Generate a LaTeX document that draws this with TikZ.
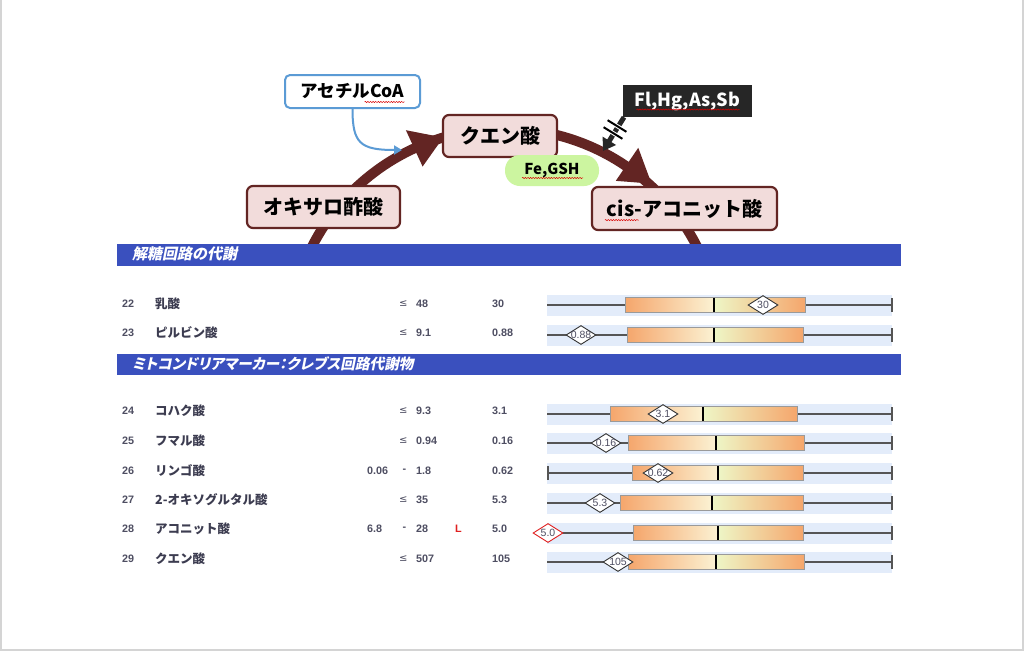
\documentclass[tikz,border=0pt]{standalone}
\usepackage{fontspec}
\setmainfont{Liberation Sans}
\newfontfamily\jp{Noto Sans CJK JP}
\newfontfamily\jpi{Noto Sans CJK JP}[RawFeature=+palt, FakeSlant=0.2]
\newfontfamily\dvs{DejaVu Sans}
\usetikzlibrary{shapes.geometric, arrows.meta, decorations.pathmorphing, calc}
\definecolor{maroon}{HTML}{632523}
\definecolor{boxpink}{HTML}{F2DCDB}
\definecolor{acblue}{HTML}{5B9BD5}
\definecolor{bandblue}{HTML}{3A50BE}
\definecolor{rowbg}{HTML}{E3ECFA}
\definecolor{orng}{HTML}{F5A66C}
\definecolor{cream}{HTML}{FBF2D3}
\definecolor{paleyg}{HTML}{EEF6C6}
\definecolor{txtd}{HTML}{3C3C50}
\definecolor{txtn}{HTML}{4E4E62}
\definecolor{limeg}{HTML}{CCF5A0}
\definecolor{blk}{HTML}{262626}
\definecolor{framegray}{HTML}{D4D4D4}
\definecolor{whiskc}{HTML}{555555}
\definecolor{boxedge}{HTML}{9A9A9A}
\definecolor{lred}{HTML}{E02020}
\newcommand{\rowbar}[5]{%
  \fill[rowbg] (547,#1-10.5) rectangle (892,#1+10.5);
  \draw[whisk] (547,#1) -- (892,#1);
  \draw[whisk] (892,#1-7) -- (892,#1+7);
  \shade[left color=orng, right color=cream] (#2,#1-7.2) rectangle (#4,#1+7.2);
  \shade[left color=paleyg, right color=orng] (#4,#1-7.2) rectangle (#3,#1+7.2);
  \draw[boxb] (#2,#1-7.2) rectangle (#3,#1+7.2);
  \draw[medl] (#4,#1-7.2) -- (#4,#1+7.2);
  \ifnum#5=1 \draw[whisk] (548,#1-7) -- (548,#1+7);\fi
}
\begin{document}
\begin{tikzpicture}[x=1pt,y=-1pt,
  chem/.style={draw=maroon, line width=2.2pt, fill=boxpink, rounded corners=6pt,
    font=\jp\bfseries\fontsize{20}{24}\selectfont, inner sep=0pt},
  rn/.style={anchor=west, inner sep=0pt, font=\bfseries\fontsize{10.8}{12}\selectfont, text=txtn},
  nm/.style={anchor=west, inner sep=0pt, font=\jp\bfseries\fontsize{12.5}{14}\selectfont, text=txtd},
  le/.style={anchor=west, inner sep=0pt, font=\dvs\fontsize{10}{12}\selectfont, text=txtn},
  bandtxt/.style={anchor=west, inner sep=0pt, text=white, font=\jpi\bfseries\fontsize{15}{17}\selectfont},
  whisk/.style={whiskc, line width=1.2pt},
  boxb/.style={boxedge, line width=0.8pt},
  medl/.style={black, line width=1.2pt},
  dia/.style={diamond, draw=#1, line width=0.9pt, fill=white, inner sep=0pt,
    minimum width=30pt, minimum height=19pt, font=\fontsize{10.5}{11}\selectfont, text=txtn},
  dia/.default={black!80},
  wavy/.style={red!85!black, line width=0.5pt, decorate, decoration={snake, amplitude=0.6pt, segment length=2.6pt}}
]
\useasboundingbox (0,0) rectangle (1024,651);
\fill[white] (0,0) rectangle (1024,651);
\draw[framegray, line width=2pt] (1,0) -- (1,650) -- (1023,650) -- (1023,0);

% ---- cycle arc ----
\coordinate (C) at (504.5,344.6);
\draw[maroon, line width=10pt] ([shift={(206:216)}]C) arc[start angle=206, end angle=334, radius=216];
\fill[maroon] ([shift={(253.5:216)}]C) -- ([shift={(245.3:236)}]C) -- ([shift={(245.3:196)}]C) -- cycle;
\fill[maroon] ([shift={(312.4:218)}]C) -- ([shift={(304.2:238)}]C) -- ([shift={(304.2:198)}]C) -- cycle;

% ---- nodes ----
\node[chem, minimum width=153pt, minimum height=42pt] (oxa) at (323.5,207) {オキサロ酢酸};
\node[chem, minimum width=114pt, minimum height=42pt] (cit) at (500,136) {クエン酸};
\node[chem, minimum width=185pt, minimum height=43pt] (cis) at (684.5,208.5) {cis-アコニット酸};

\node[draw=acblue, line width=2pt, fill=white, rounded corners=5pt, minimum width=135pt,
  minimum height=33pt, inner sep=0pt, font=\jp\bfseries\fontsize{17.5}{20}\selectfont] (acoa) at (352.5,91.5) {アセチルCoA};
\coordinate (acin) at (402,150);
\draw[acblue, line width=2pt, -{Triangle[length=8pt,width=9pt]}] (acoa.south) .. controls (352.5,143) and (360,150) .. (acin);

\node[fill=limeg, rounded corners=15pt, minimum width=94pt, minimum height=31pt, inner sep=0pt,
  font=\jp\bfseries\fontsize{15}{18}\selectfont] (fe) at (552,170.5) {Fe,GSH};

\node[fill=blk, minimum width=129pt, minimum height=32pt, inner sep=0pt, text=white,
  font=\jp\bfseries\fontsize{18}{21}\selectfont] (tox) at (687.5,101) {Fl,Hg,As,Sb};
\coordinate (toxtip) at (603,151);
\draw[blk, line width=5pt, -{Triangle[length=12pt,width=15pt]}] ([xshift=-63.5pt]tox.south) -- (toxtip);
\coordinate (h1a) at (607.6,120.2); \coordinate (h1b) at (626.4,131.8);
\coordinate (h2a) at (603.6,127.2); \coordinate (h2b) at (622.4,138.8);
\draw[white, line width=4pt] (h1a) -- (h1b) (h2a) -- (h2b);
\draw[black, line width=2pt] (h1a) -- (h1b) (h2a) -- (h2b);

% spell-check underlines
\draw[wavy] ($(acoa.base)+(12,4)$) -- ($(acoa.base)+(52,4)$);
\draw[wavy] ($(fe.base)+(-30,3.5)$) -- ($(fe.base)+(31,3.5)$);
\draw[wavy] ($(tox.base)+(-51,3.5)$) -- ($(tox.base)+(52,3.5)$);
\draw[wavy] ($(cis.base west)+(14,4)$) -- ($(cis.base west)+(48,4)$);

% ---- bands ----
\fill[bandblue] (117,244) rectangle (901,266);
\node[bandtxt] (b1) at (132,254) {解糖回路の代謝};
\fill[bandblue] (117,354) rectangle (901,375);
\node[bandtxt, font=\jpi\bfseries\fontsize{14.6}{17}\selectfont] (b2) at (132,364) {ミトコンドリアマーカー：クレブス回路代謝物};

% ---- rows text ----
\foreach \n/\y/\name in {22/304/乳酸, 23/333/ピルビン酸, 24/411/コハク酸, 25/441/フマル酸,
   26/471/リンゴ酸, 27/500/2-オキソグルタル酸, 28/529/アコニット酸, 29/559/クエン酸}{
  \node[rn] (n\n) at (122,\y) {\n};
  \node[nm] (nm\n) at (155,\y) {\name};
}
\foreach \n/\y/\hi/\v in {22/304/48/30, 23/333/9.1/0.88, 24/411/9.3/3.1, 25/441/0.94/0.16,
   27/500/35/5.3, 29/559/507/105}{
  \node[le] (le\n) at (399,\y) {≤};
  \node[rn] (hi\n) at (416,\y) {\hi};
  \node[rn] (v\n) at (492,\y) {\v};
}
\foreach \n/\y/\lo/\hi/\v in {26/471/0.06/1.8/0.62, 28/529/6.8/28/5.0}{
  \node[rn] (lo\n) at (367,\y) {\lo};
  \node[rn] (da\n) at (402.5,\y) {-};
  \node[rn] (hi\n) at (416,\y) {\hi};
  \node[rn] (v\n) at (492,\y) {\v};
}
\node[rn, text=lred] (flag28) at (455,529) {L};

% ---- bars ----
\rowbar{305}{625}{805}{714}{0}
\rowbar{335}{627}{803}{714}{0}
\rowbar{414}{610}{797}{703}{0}
\rowbar{443}{628}{804}{716}{0}
\rowbar{473}{632}{803}{718}{1}
\rowbar{503}{620}{803}{712}{0}
\rowbar{533}{633}{803}{718}{0}
\rowbar{562}{628}{804}{716}{0}

\node[dia] (d22) at (763,305) {\makebox[0pt]{30}};
\node[dia] (d23) at (581,335) {\makebox[0pt]{0.88}};
\node[dia] (d24) at (663,414) {\makebox[0pt]{3.1}};
\node[dia] (d25) at (606,443) {\makebox[0pt]{0.16}};
\node[dia] (d26) at (658,473) {\makebox[0pt]{0.62}};
\node[dia] (d27) at (600,503) {\makebox[0pt]{5.3}};
\node[dia=lred] (d28) at (548,533) {\makebox[0pt]{5.0}};
\node[dia] (d29) at (618,562) {\makebox[0pt]{105}};
\end{tikzpicture}
\end{document}
